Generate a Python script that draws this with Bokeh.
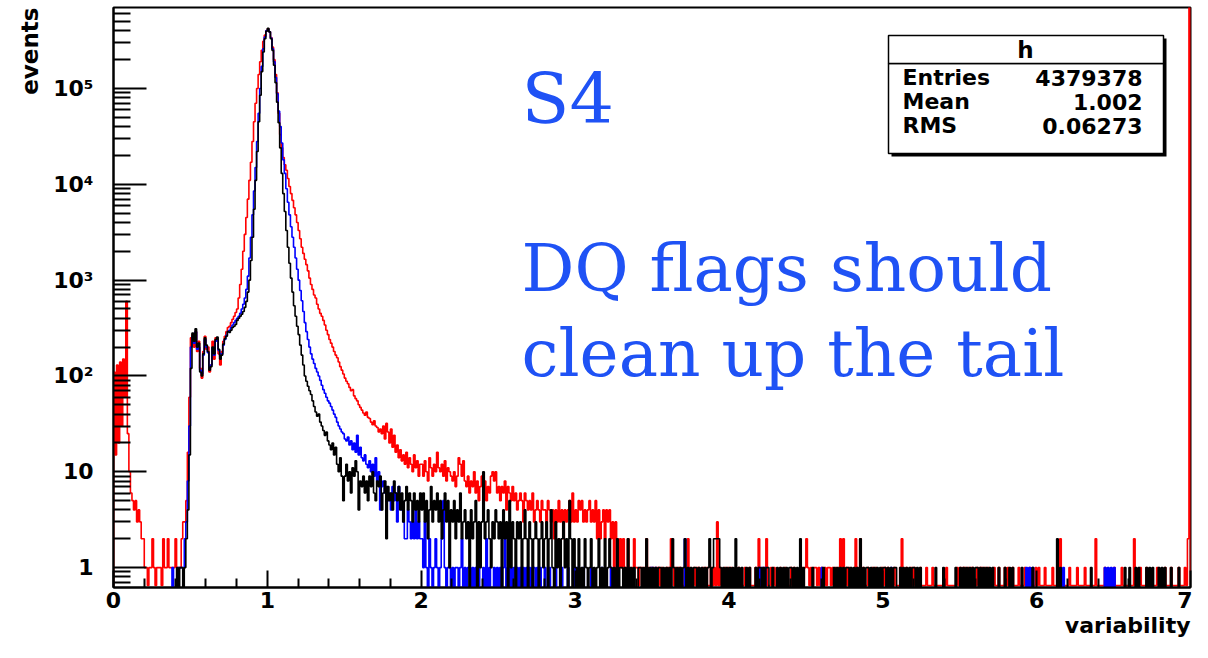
import numpy as np
from bokeh.plotting import figure
from bokeh.models import Range1d, FixedTicker, CustomJSTickFormatter, Label, BoxAnnotation, Title
from bokeh.embed import file_html
from bokeh.resources import INLINE

# ---------------- data (histogram counts, bin width 0.01 on 0..7) ----------------
BIN_WIDTH = 0.01

# bins 0.00 - 0.49
red_head = [110, 15, 130, 20, 140, 30, 150, 60, 600, 25,
            10, 6, 5, 4, 5, 3, 4, 3, 2, 2,
            1, 1, 0, 1, 1, 2, 1, 0, 1, 1,
            1, 0, 2, 1, 1, 2, 1, 1, 1, 1,
            2, 1, 1, 1, 2, 3, 3, 5, 16, 60]
blue_head = [0, 0, 0, 0, 0, 0, 0, 0, 0, 0,
             0, 0, 0, 0, 0, 0, 0, 0, 0, 0,
             0, 0, 0, 0, 0, 0, 0, 0, 0, 0,
             0, 0, 0, 0, 0, 0, 0, 0, 1, 0,
             0, 0, 1, 1, 1, 1, 2, 3, 8, 30]
black_head = [0, 0, 0, 0, 0, 0, 0, 0, 0, 0,
              0, 0, 0, 0, 0, 0, 0, 0, 0, 0,
              0, 0, 0, 0, 0, 0, 0, 0, 0, 0,
              0, 0, 0, 0, 0, 0, 0, 0, 0, 0,
              0, 1, 0, 1, 1, 0, 1, 2, 4, 15]

# bins 0.50 - 1.99
black_core = [120, 280, 230, 310, 200, 220, 110, 100, 170, 250,
              210, 180, 115, 125, 200, 170, 240, 255, 190, 150,
              165, 215, 245, 260, 290, 285, 300, 320, 330, 345,
              380, 400, 420, 440, 470, 520, 600, 750, 1000, 1600,
              2800, 5500, 11000, 22000, 45000, 85000, 150000, 240000, 330000, 395000,
              425000, 390000, 330000, 250000, 175000, 115000, 72000, 44000, 24000, 13000,
              8000, 5200, 3300, 2200, 1500, 1050, 750, 540, 420, 330,
              270, 210, 165, 130, 100, 88, 78, 70, 64, 55,
              48, 42, 38, 40, 33, 30, 27, 24, 26, 21,
              19, 17, 20, 15, 18, 12, 10, 14, 9, 5,
              9, 12, 8, 10, 6, 11, 9, 13, 10, 4,
              8, 7, 9, 6, 8, 5, 9, 7, 10, 6,
              5, 8, 7, 9, 4, 6, 8, 2, 7, 5,
              6, 4, 8, 6, 5, 7, 4, 6, 3, 5,
              7, 4, 6, 5, 3, 6, 4, 5, 3, 6]
blue_core = [200, 260, 220, 290, 190, 200, 115, 105, 165, 240,
             200, 175, 120, 130, 195, 165, 230, 245, 185, 160,
             170, 210, 240, 265, 290, 300, 320, 340, 360, 380,
             400, 420, 450, 500, 560, 650, 800, 1100, 1700, 2800,
             4800, 8500, 15000, 28000, 55000, 100000, 170000, 260000, 345000, 400000,
             415000, 390000, 335000, 260000, 190000, 130000, 88000, 58000, 40000, 27000,
             18000, 13000, 9000, 6500, 4800, 3600, 2800, 2200, 1700, 1300,
             1000, 780, 610, 470, 360, 290, 240, 200, 170, 150,
             135, 120, 110, 100, 90, 80, 72, 66, 60, 55,
             52, 48, 44, 40, 37, 33, 30, 28, 26, 25,
             22, 21, 23, 19, 21, 17, 20, 16, 24, 15,
             18, 14, 13, 15, 12, 11, 13, 10, 12, 9,
             14, 8, 10, 4, 7, 8, 6, 7, 5, 6,
             4, 7, 5, 6, 3, 7, 5, 4, 3, 2,
             2, 4, 3, 2, 3, 2, 4, 2, 3, 2]
red_core = [250, 270, 200, 290, 180, 230, 120, 95, 180, 260,
            190, 200, 110, 130, 230, 150, 250, 240, 170, 130,
            180, 230, 260, 290, 320, 330, 360, 390, 420, 460,
            500, 650, 900, 1300, 2000, 3000, 4500, 7000, 11000, 17000,
            28000, 45000, 70000, 100000, 140000, 190000, 250000, 310000, 360000, 400000,
            420000, 390000, 340000, 270000, 200000, 140000, 90000, 55000, 33000, 24000,
            19000, 16000, 14000, 11500, 9500, 8000, 6800, 5700, 4800, 4000,
            3300, 2700, 2200, 1900, 1650, 1450, 1250, 1050, 900, 800,
            700, 650, 560, 500, 450, 420, 380, 340, 300, 270,
            240, 220, 200, 180, 165, 155, 140, 125, 115, 105,
            95, 88, 83, 76, 70, 72, 62, 58, 55, 50,
            47, 44, 41, 39, 42, 37, 36, 33, 31, 34,
            30, 29, 26, 28, 25, 30, 22, 32, 26, 20,
            28, 18, 24, 16, 19, 14, 17, 13, 15, 12,
            16, 11, 14, 12, 10, 15, 11, 13, 9, 12]

# bins 2.00 - 2.99
red_mid = [12, 9, 13, 10, 8, 14, 11, 9, 12, 10,
           16, 11, 10, 12, 9, 13, 8, 11, 10, 9,
           8, 10, 7, 9, 14, 12, 9, 13, 8, 7,
           9, 6, 8, 7, 10, 6, 8, 5, 7, 9,
           6, 8, 5, 7, 6, 9, 10, 8, 10, 6,
           7, 5, 7, 6, 8, 4, 7, 6, 5, 7,
           5, 6, 4, 5, 6, 5, 3, 6, 5, 4,
           5, 4, 6, 3, 4, 5, 4, 3, 5, 4,
           4, 3, 5, 4, 3, 4, 2, 4, 3, 5,
           3, 4, 2, 4, 3, 4, 5, 3, 6, 3]
blue_mid = [2, 1, 3, 1, 0, 2, 1, 0, 1, 2,
            1, 0, 1, 2, 5, 1, 0, 1, 1, 0,
            1, 0, 1, 1, 0, 1, 2, 0, 1, 0,
            1, 1, 0, 1, 0, 1, 0, 2, 0, 0,
            1, 0, 2, 0, 1, 0, 0, 1, 0, 1,
            0, 1, 0, 1, 2, 0, 1, 0, 1, 0,
            1, 0, 1, 0, 1, 0, 1, 0, 1, 0,
            1, 0, 1, 1, 0, 1, 0, 1, 0, 0,
            1, 0, 0, 1, 0, 0, 0, 1, 0, 0,
            0, 1, 0, 0, 0, 1, 0, 0, 0, 1]
black_mid = [4, 6, 3, 5, 2, 4, 7, 3, 5, 4,
             6, 3, 5, 2, 4, 6, 3, 5, 1, 4,
             3, 5, 2, 4, 3, 6, 2, 3, 4, 2,
             3, 0, 4, 2, 3, 5, 0, 3, 1, 3,
             10, 2, 3, 4, 2, 1, 3, 2, 4, 3,
             2, 3, 0, 4, 2, 3, 0, 5, 1, 3,
             2, 0, 3, 2, 3, 0, 2, 4, 2, 0,
             3, 2, 0, 2, 3, 2, 0, 2, 3, 1,
             2, 3, 0, 2, 4, 1, 0, 3, 1, 2,
             0, 2, 3, 1, 2, 0, 5, 2, 0, 2]

# bins 3.00 - 6.99, one digit per bin
red_tail = ("4354534345 3435242342 4342313212 1211210121 1011012101 "
            "0101101001 1021010110 0102100101 1001010010 1030100101 "
            "0100101000 1001000102 0010200101 0001001000 1010000101 "
            "2101011010 1010110101 0120201010 0021020100 1001010001 "
            "0101000100 0120010010 1000100010 0010000000 0100000010 "
            "1011010110 0101101010 0010010001 0100100010 0010010001 "
            "0100010000 1000020000 0100001000 0100000020 0000100000 "
            "1000010000 0002000100 0100000010 0001000100 0010001020")
blue_tail = ("0100010000 1000000100 0001000000 0000100000 0000000001 "
             "1010000000 0000000000 0200000000 0000000000 0000000000 "
             "0000000000 0000000001 0101000000 0000000000 0000000000 "
             "0000000000 1000000000 0000000000 0000000000 0000000000 "
             "0000010000 0000000000 0000000000 0000000000 0000000000 "
             "0000000000 0000000000 0000000000 0000000000 0001010100 "
             "0000000000 0000000100 0000000000 0000000000 0000101010 "
             "1000000000 0000000000 0000000000 0000000000 0000000000")
black_tail = ("1020102101 2010120102 0121010201 1010201010 0110102010 "
              "1010110101 0102101010 1201010110 1010101201 2222101010 "
              "1010201010 0101000101 1010110010 0101010101 1010102010 "
              "0000100000 0100000010 1010101101 0101020101 1010101010 "
              "1101010110 0101010101 1010100000 0000100001 0000000100 "
              "1010101010 1101010101 0100010001 0010100000 1000000100 "
              "0000000000 0002010000 0000000000 0000010000 0000000000 "
              "0000000100 1000101000 0101010001 0101000100 0010000000")

# red histogram's last bin is off scale (line up the right edge of the frame)
RED_LAST_BIN = 3000000

stats_title = "h"
stats_names = ["Entries", "Mean", "RMS"]
stats_values = ["4379378", "1.002", "0.06273"]

x_major = [0, 1, 2, 3, 4, 5, 6, 7]
y_major = [1, 10, 100, 1000, 10000, 100000]


def digits(s):
    return [int(c) for c in s if c.isdigit()]


red_counts = red_head + red_core + red_mid + digits(red_tail)
red_counts[-1] = RED_LAST_BIN
blue_counts = blue_head + blue_core + blue_mid + digits(blue_tail)
black_counts = black_head + black_core + black_mid + digits(black_tail)

# ---------------- geometry ----------------
X_START, X_END = 0.0, 7.0
Y_START, Y_END = 0.62, 7.0e5
W, H = 1192, 642
BL, BR, BT, BB = 113, 2, 7, 55

FX0, FX1 = BL, W - BR
FY0, FY1 = BT, H - BB
L0, L1 = np.log10(Y_START), np.log10(Y_END)


def dx(px):
    return X_START + (px - FX0) / (FX1 - FX0) * (X_END - X_START)


def dy(py):
    return 10 ** (L1 - (py - FY0) / (FY1 - FY0) * (L1 - L0))


def outline(counts, zero_level):
    xs, ys = [0.0], [zero_level]
    for i, c in enumerate(counts):
        v = c if c > 0 else zero_level
        xs += [i * BIN_WIDTH, (i + 1) * BIN_WIDTH]
        ys += [v, v]
    xs.append(len(counts) * BIN_WIDTH)
    ys.append(zero_level)
    return xs, ys


p = figure(width=W, height=H, x_range=Range1d(X_START, X_END),
           y_range=Range1d(Y_START, Y_END), y_axis_type="log",
           output_backend="svg", toolbar_location=None,
           min_border_left=BL, min_border_right=BR,
           min_border_top=BT, min_border_bottom=BB)
p.background_fill_color = "white"
p.border_fill_color = "white"
p.xgrid.visible = False
p.ygrid.visible = False
p.outline_line_color = "black"
p.outline_line_width = 2
p.outline_line_alpha = 1

# histograms (zero bins: red on the frame floor, others below it)
rx, ry = outline(red_counts, Y_START * 1.05)
p.line(rx, ry, line_color="#ff0000", line_width=1.6)
bx, by = outline(blue_counts, Y_START * 0.5)
p.line(bx, by, line_color="#0000ff", line_width=1.6)
kx, ky = outline(black_counts, Y_START * 0.5)
p.line(kx, ky, line_color="#000000", line_width=1.6)

# axes
AX_FONT = "DejaVu Sans"
xa = p.xaxis[0]
ya = p.yaxis[0]
xa.ticker = FixedTicker(ticks=x_major, minor_ticks=[i / 5 for i in range(36) if i % 5])
ya.ticker = FixedTicker(ticks=y_major,
                        minor_ticks=[m * 10.0 ** e for e in range(-1, 6) for m in range(2, 10)
                                     if Y_START < m * 10.0 ** e < Y_END])
ya.formatter = CustomJSTickFormatter(code="""
const e = Math.round(Math.log10(tick));
const sup = {2: '\u00b2', 3: '\u00b3', 4: '\u2074', 5: '\u2075'};
if (e == 0) return '1';
if (e == 1) return '10';
return '10' + (sup[e] || '');
""")
for ax in (xa, ya):
    ax.axis_line_width = 2
    ax.axis_line_color = "black"
    ax.major_tick_line_width = 2
    ax.minor_tick_line_width = 2
    ax.major_tick_line_color = "black"
    ax.minor_tick_line_color = "black"
    ax.major_tick_out = 0
    ax.minor_tick_out = 0
    ax.major_label_text_font = AX_FONT
    ax.major_label_text_font_style = "bold"
    ax.major_label_text_font_size = "22px"
    ax.major_label_text_color = "black"
xa.major_tick_in = 17
xa.minor_tick_in = 9
xa.major_label_standoff = 4
ya.major_tick_in = 33
ya.minor_tick_in = 17
ya.major_label_standoff = 20

# axis titles, at the far end of each axis
p.add_layout(Title(text="events", align="right", text_font=AX_FONT,
                   text_font_style="bold", text_font_size="23px",
                   text_color="black", standoff=16), "left")
p.add_layout(Title(text="variability", align="right", text_font=AX_FONT,
                   text_font_style="bold", text_font_size="22px",
                   text_color="black", standoff=0), "below")

# stats box
p.add_layout(BoxAnnotation(left=dx(891), right=dx(1166), top=dy(38), bottom=dy(156),
                           fill_color="black", fill_alpha=1, line_alpha=0))
p.add_layout(BoxAnnotation(left=dx(888), right=dx(1163), top=dy(63), bottom=dy(153),
                           fill_color="white", fill_alpha=1,
                           line_color="black", line_width=1.5, line_alpha=1))
p.add_layout(BoxAnnotation(left=dx(888), right=dx(1163), top=dy(35), bottom=dy(63),
                           fill_color="white", fill_alpha=1,
                           line_color="black", line_width=1.5, line_alpha=1))
# (labels below are placed by the vertical middle of their text box)
p.add_layout(Label(x=dx(1025), y=dy(49), text=stats_title, text_align="center",
                   text_baseline="middle", text_font=AX_FONT,
                   text_font_style="bold", text_font_size="23px", text_color="black"))
for name, val, mid in zip(stats_names, stats_values, [77, 101, 125]):
    p.add_layout(Label(x=dx(902), y=dy(mid), text=name, text_align="left",
                       text_baseline="middle", text_font=AX_FONT,
                       text_font_style="bold", text_font_size="22px", text_color="black"))
    p.add_layout(Label(x=dx(1142), y=dy(mid), text=val, text_align="right",
                       text_baseline="middle", text_font=AX_FONT,
                       text_font_style="bold", text_font_size="22px", text_color="black"))

# slide annotations
BLUE_TEXT = "#1f52f5"
SERIF = "DejaVu Serif"
p.add_layout(Label(x=dx(521), y=dy(98), text="S4", text_align="left",
                   text_baseline="middle", text_font=SERIF,
                   text_font_size="70px", text_color=BLUE_TEXT))
p.add_layout(Label(x=dx(521), y=dy(268), text="DQ flags should", text_align="left",
                   text_baseline="middle", text_font=SERIF,
                   text_font_size="66px", text_color=BLUE_TEXT))
p.add_layout(Label(x=dx(521), y=dy(353), text="clean up the tail", text_align="left",
                   text_baseline="middle", text_font=SERIF,
                   text_font_size="66px", text_color=BLUE_TEXT))

open("out.html", "w").write(file_html(p, INLINE))
